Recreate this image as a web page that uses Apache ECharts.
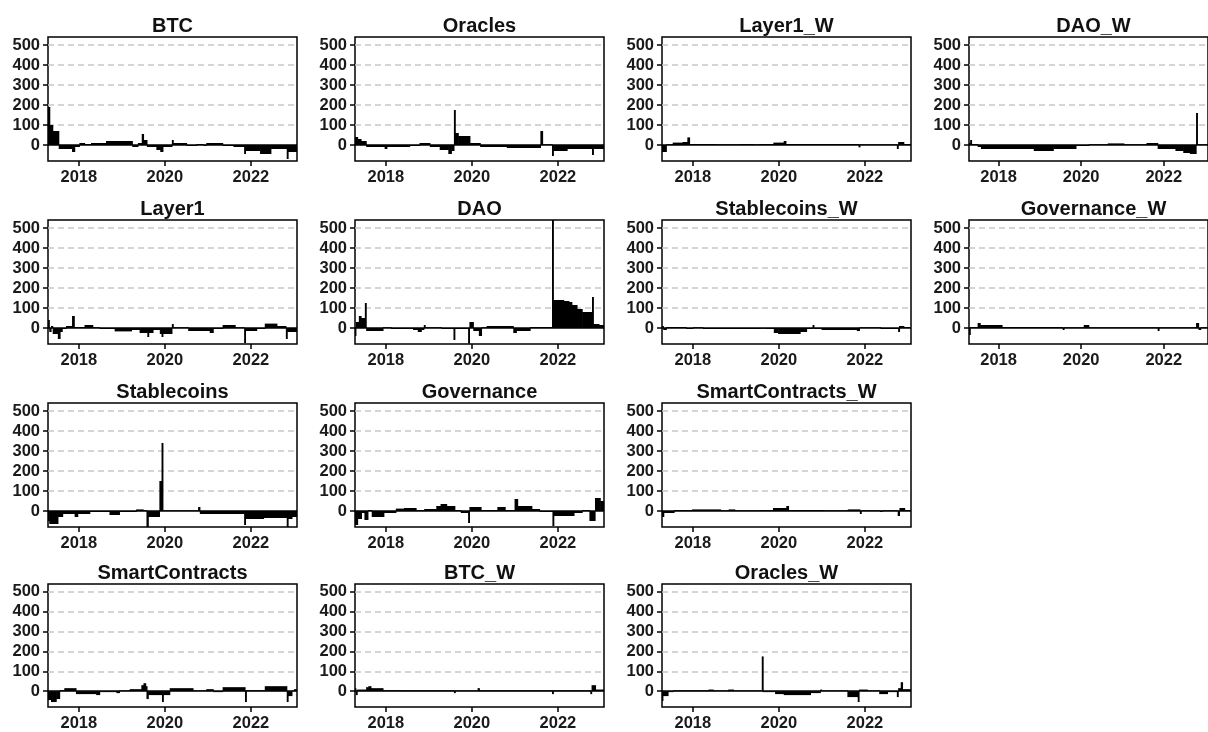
<!DOCTYPE html>
<html>
<head>
<meta charset="utf-8">
<title>Category indices</title>
<script src="https://cdn.jsdelivr.net/npm/echarts@6/dist/echarts.min.js"></script>
<style>
  html, body { margin: 0; padding: 0; background: #ffffff; }
  #chart { width: 1208px; height: 732px; }
</style>
</head>
<body>
<div id="chart"></div>
<script>
// Axis ticks and ranges (x in decimal years)
const xTicks = [2018, 2020, 2022];
const yTicks = [0, 100, 200, 300, 400, 500];
const xRange = [2017.284, 2023.072];
const yRange = [-80, 540];

// Each series: [year, value] change points; a value holds until the next point
const btc = [
  [2017.28, 190], [2017.33, 100], [2017.40, 70], [2017.54, -20], [2017.85, -35], [2017.91, -10],
  [2018.02, 10], [2018.14, 5], [2018.29, 10], [2018.64, 20], [2019.25, -10], [2019.38, 10],
  [2019.47, 55], [2019.51, 25], [2019.59, -10], [2019.81, -25], [2019.90, -35], [2019.96, -10],
  [2020.17, 25], [2020.20, 10], [2020.51, -5], [2020.74, 5], [2020.91, -5], [2020.97, 10],
  [2021.35, -5], [2021.60, -10], [2021.85, -45], [2021.88, -30], [2022.22, -45], [2022.47, -20],
  [2022.84, -70], [2022.87, -35], [2023.07, -35]
];
const oracles = [
  [2017.28, 40], [2017.35, 30], [2017.43, 20], [2017.55, -10], [2017.98, -20], [2018.03, -10],
  [2018.56, -5], [2018.79, 10], [2019.03, -10], [2019.26, -25], [2019.46, -45], [2019.53, -30],
  [2019.59, 175], [2019.61, 60], [2019.69, 45], [2019.96, 10], [2020.20, -10], [2020.82, -15],
  [2021.60, 70], [2021.65, 0], [2021.87, -55], [2021.89, -30], [2022.22, -20], [2022.80, -50],
  [2022.83, -20], [2023.07, -20]
];
const layer1W = [
  [2017.28, -35], [2017.39, 0], [2017.54, 12], [2017.77, 15], [2017.88, 38], [2017.93, 5],
  [2018.55, 2], [2019.10, 5], [2019.41, 2], [2019.56, 5], [2019.88, 12], [2020.12, 20],
  [2020.17, 5], [2021.86, -12], [2021.88, 0], [2022.75, -20], [2022.78, 15], [2022.91, 5],
  [2023.07, 5]
];
const daoW = [
  [2017.28, 10], [2017.32, 25], [2017.35, 5], [2017.50, -10], [2017.58, -20], [2018.86, -30],
  [2019.33, -20], [2019.88, -5], [2020.19, 2], [2020.65, 8], [2021.04, 2], [2021.59, 10],
  [2021.86, -20], [2022.29, -30], [2022.48, -40], [2022.64, -45], [2022.79, 160], [2022.82, 0],
  [2023.07, 0]
];
const layer1 = [
  [2017.28, 40], [2017.32, -20], [2017.36, 10], [2017.40, -30], [2017.52, -55], [2017.57, -20],
  [2017.62, -5], [2017.71, 10], [2017.85, 60], [2017.90, 5], [2018.14, 15], [2018.33, 0],
  [2018.49, -5], [2018.84, -17], [2019.23, -10], [2019.42, -25], [2019.60, -45], [2019.63, -25],
  [2019.73, -10], [2019.89, -30], [2019.93, -45], [2019.96, -30], [2020.17, 20], [2020.20, 0],
  [2020.55, -15], [2021.05, -25], [2021.13, -5], [2021.35, 15], [2021.64, 3], [2021.85, -75],
  [2021.88, -15], [2022.14, -5], [2022.33, 22], [2022.61, 10], [2022.82, -55], [2022.85, -20],
  [2023.07, -10]
];
const dao = [
  [2017.28, -40], [2017.31, 30], [2017.38, 60], [2017.43, 50], [2017.52, 125], [2017.55, -15],
  [2017.94, 0], [2018.13, -5], [2018.64, -10], [2018.75, -20], [2018.83, -10], [2018.89, 15],
  [2018.92, 0], [2019.30, -5], [2019.58, -60], [2019.60, -5], [2019.92, -78], [2019.95, 30],
  [2020.04, -15], [2020.17, -40], [2020.23, 0], [2020.35, 10], [2020.97, -25], [2021.04, -15],
  [2021.36, 5], [2021.87, 540], [2021.89, 140], [2022.14, 135], [2022.26, 130], [2022.33, 115],
  [2022.45, 95], [2022.57, 80], [2022.80, 155], [2022.82, 20], [2022.96, 15], [2023.07, 15]
];
const stablecoinsW = [
  [2017.28, 10], [2017.32, -10], [2017.39, 5], [2017.85, -5], [2018.01, 2], [2018.24, -5],
  [2019.56, -2], [2019.72, -5], [2019.89, -25], [2019.99, -30], [2020.50, -20], [2020.65, -5],
  [2020.79, 15], [2020.82, -5], [2021.00, -10], [2021.82, -15], [2021.88, 0], [2022.37, -5],
  [2022.78, -20], [2022.80, 10], [2022.91, 5], [2023.07, 5]
];
const governanceW = [
  [2017.28, -35], [2017.32, 5], [2017.50, 25], [2017.56, 15], [2018.09, 5], [2019.56, -10],
  [2019.59, 3], [2020.07, 15], [2020.19, 3], [2021.86, -15], [2021.88, 3], [2022.79, 25],
  [2022.85, -10], [2022.90, 0], [2023.07, 0]
];
const stablecoins = [
  [2017.28, -50], [2017.32, -65], [2017.52, -30], [2017.63, -15], [2017.91, -30], [2017.98, -15],
  [2018.26, -5], [2018.72, -20], [2018.95, -5], [2019.34, 8], [2019.50, 0], [2019.58, -80],
  [2019.62, -30], [2019.88, 150], [2019.93, 340], [2019.96, 0], [2020.78, 20], [2020.82, -15],
  [2021.85, -70], [2021.88, -40], [2022.30, -35], [2022.84, -80], [2022.86, -40], [2022.96, -30],
  [2023.07, -30]
];
const governance = [
  [2017.28, -70], [2017.35, -40], [2017.44, -10], [2017.51, -45], [2017.59, 5], [2017.68, -30],
  [2017.96, -10], [2018.24, 12], [2018.43, 15], [2018.71, 5], [2018.90, 10], [2019.18, 25],
  [2019.28, 35], [2019.42, 25], [2019.61, 5], [2019.75, -10], [2019.92, -60], [2019.95, 20],
  [2020.22, 5], [2020.60, 20], [2020.78, 5], [2021.00, 60], [2021.07, 25], [2021.40, 10],
  [2021.58, -5], [2021.88, -75], [2021.91, -25], [2022.38, -10], [2022.57, 5], [2022.74, -50],
  [2022.87, 65], [2022.99, 50], [2023.07, 50]
];
const smartContractsW = [
  [2017.28, -30], [2017.33, -10], [2017.57, 5], [2017.99, 8], [2018.65, 2], [2018.84, 8],
  [2018.98, 2], [2019.59, 5], [2019.87, 15], [2020.18, 25], [2020.23, 5], [2021.05, 2],
  [2021.61, 8], [2021.89, -15], [2021.92, 2], [2022.36, -5], [2022.41, 2], [2022.77, -25],
  [2022.81, 15], [2022.93, 5], [2023.07, 5]
];
const smartContracts = [
  [2017.28, -45], [2017.36, -55], [2017.48, -40], [2017.56, 5], [2017.67, 15], [2017.94, -15],
  [2018.41, -20], [2018.49, -5], [2018.88, -10], [2018.95, 0], [2019.19, 10], [2019.46, 30],
  [2019.51, 40], [2019.56, 25], [2019.58, -40], [2019.62, -20], [2019.94, -55], [2019.96, -20],
  [2020.12, 15], [2020.66, 0], [2020.97, 10], [2021.13, -5], [2021.35, 20], [2021.87, -55],
  [2021.89, 5], [2022.33, 25], [2022.84, -55], [2022.86, -25], [2022.96, 0], [2023.01, 10],
  [2023.07, 10]
];
const btcW = [
  [2017.28, 15], [2017.31, -20], [2017.34, 8], [2017.55, 20], [2017.60, 25], [2017.66, 15],
  [2017.94, 5], [2018.33, 3], [2019.59, -10], [2019.61, 3], [2020.14, 15], [2020.18, 3],
  [2021.87, -15], [2021.89, 3], [2022.76, -15], [2022.79, 30], [2022.88, 8], [2023.07, 8]
];
const oraclesW = [
  [2017.28, -50], [2017.31, -25], [2017.43, -5], [2017.55, 0], [2018.37, 8], [2018.48, 0],
  [2018.83, 8], [2018.95, 0], [2019.61, 175], [2019.63, -5], [2019.92, -15], [2020.12, -20],
  [2020.74, -10], [2020.97, 8], [2021.00, 0], [2021.60, -30], [2021.84, -55], [2021.87, 8],
  [2022.06, 0], [2022.34, -15], [2022.53, -5], [2022.75, -30], [2022.78, 15], [2022.84, 45],
  [2022.88, 10], [2023.07, 5]
];

// Panel titles with their series, in reading order
const panelNames = [
  'BTC', 'Oracles', 'Layer1_W', 'DAO_W',
  'Layer1', 'DAO', 'Stablecoins_W', 'Governance_W',
  'Stablecoins', 'Governance', 'SmartContracts_W',
  'SmartContracts', 'BTC_W', 'Oracles_W'
];
const panelData = [
  btc, oracles, layer1W, daoW,
  layer1, dao, stablecoinsW, governanceW,
  stablecoins, governance, smartContractsW,
  smartContracts, btcW, oraclesW
];

// Grid cell (row, col) of each panel
const cells = [
  [0, 0], [0, 1], [0, 2], [0, 3],
  [1, 0], [1, 1], [1, 2], [1, 3],
  [2, 0], [2, 1], [2, 2],
  [3, 0], [3, 1], [3, 2]
];
const colLeft = [48, 355, 662, 969];
const rowTop = [37, 220, 403, 584];
const W = 249, H = 124;
const FONT = '"Liberation Sans", Arial, Helvetica, sans-serif';

// Turn change points into [start, end, value] spans
function toSpans(pts) {
  const out = [];
  for (let k = 0; k < pts.length - 1; k++) {
    out.push([pts[k][0], pts[k + 1][0], pts[k][1]]);
  }
  return out;
}

// Each span is a filled bar from zero up (or down) to its value;
// neighbouring bars overlap slightly so no seams show between them
function renderSpan(params, api) {
  const x0 = api.value(0), x1 = api.value(1), v = api.value(2);
  const a = api.coord([x0, 0]);
  const b = api.coord([x1, v]);
  const w = Math.max(b[0] - a[0], 1.3) + 0.6;
  const h = Math.max(Math.abs(b[1] - a[1]), 0.8);
  return {
    type: 'rect',
    shape: { x: a[0] - 0.3, y: v >= 0 ? a[1] - h : a[1], width: w, height: h },
    style: { fill: '#000' }
  };
}

const grids = [], xAxes = [], yAxes = [], series = [], graphics = [];

panelNames.forEach((name, i) => {
  const [row, col] = cells[i];
  const left = colLeft[col], top = rowTop[row];

  grids.push({
    left: left, top: top, width: W, height: H,
    show: true, borderColor: '#000', borderWidth: 1.5, backgroundColor: 'transparent'
  });

  xAxes.push({
    gridIndex: i, type: 'value', min: xRange[0], max: xRange[1],
    axisLine: { show: false, onZero: false },
    splitLine: { show: false },
    axisTick: { show: true, customValues: xTicks, length: 5, lineStyle: { color: '#000', width: 1.5 } },
    axisLabel: {
      customValues: xTicks, margin: 8, fontSize: 16.5, fontWeight: 'bold',
      fontFamily: FONT, color: '#1a1a1a', formatter: v => String(Math.round(v))
    }
  });

  yAxes.push({
    gridIndex: i, type: 'value', min: yRange[0], max: yRange[1],
    axisLine: { show: false, onZero: false },
    splitLine: { show: false },
    axisTick: { show: true, customValues: yTicks, length: 5, lineStyle: { color: '#000', width: 1.5 } },
    axisLabel: {
      customValues: yTicks, margin: 8, fontSize: 16.5, fontWeight: 'bold',
      fontFamily: FONT, color: '#1a1a1a'
    }
  });

  // dashed reference lines, beneath the data
  series.push({
    type: 'line', xAxisIndex: i, yAxisIndex: i, z: 1, silent: true,
    data: [[xRange[0], 0]], symbol: 'none', lineStyle: { width: 0 },
    markLine: {
      z: 1, silent: true, symbol: 'none', animation: false, label: { show: false },
      lineStyle: { color: '#c8c8c8', type: [6, 4], width: 1.5 },
      data: yTicks.filter(v => v > 0).map(v => ({ yAxis: v }))
    }
  });

  // the series values
  series.push({
    type: 'custom', xAxisIndex: i, yAxisIndex: i, z: 3, silent: true, clip: true,
    data: toSpans(panelData[i]),
    encode: { x: [0, 1], y: 2 },
    renderItem: renderSpan
  });

  // zero line
  series.push({
    type: 'line', xAxisIndex: i, yAxisIndex: i, z: 4, silent: true,
    data: [[xRange[0], 0]], symbol: 'none', lineStyle: { width: 0 },
    markLine: {
      z: 6, silent: true, symbol: 'none', animation: false, label: { show: false },
      lineStyle: { color: '#000', type: 'solid', width: 1.5 },
      data: [{ yAxis: 0 }]
    }
  });

  graphics.push({
    type: 'text', x: left + W / 2, y: top - 11, silent: true,
    style: {
      text: name, font: 'bold 20px ' + FONT, fill: '#111',
      align: 'center', verticalAlign: 'middle'
    }
  });
});

const chart = echarts.init(document.getElementById('chart'), null, { renderer: 'canvas' });
chart.setOption({
  backgroundColor: '#ffffff',
  animation: false,
  grid: grids,
  xAxis: xAxes,
  yAxis: yAxes,
  series: series,
  graphic: graphics
});
</script>
</body>
</html>
